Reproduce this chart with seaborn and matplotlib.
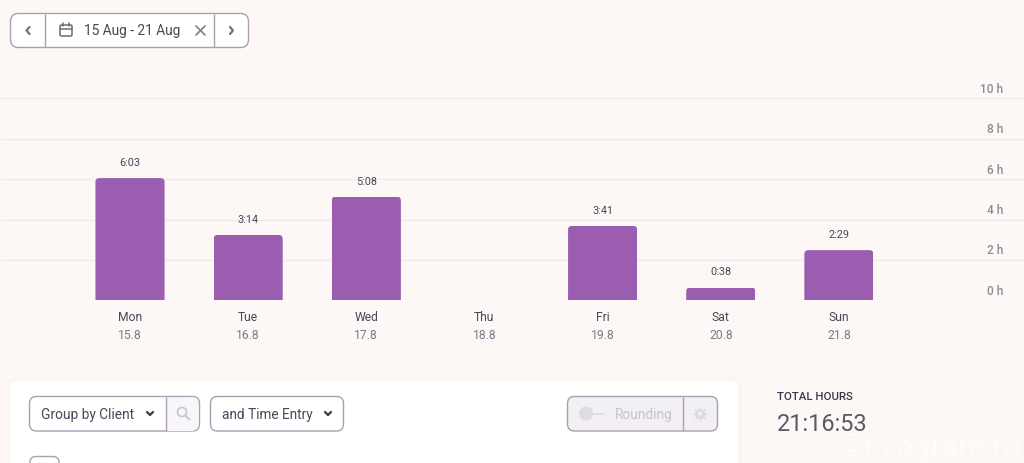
import matplotlib
matplotlib.use("Agg")
import matplotlib.pyplot as plt
import pandas as pd
import seaborn as sns
from matplotlib.patches import Circle, FancyBboxPatch, Rectangle
from matplotlib.transforms import IdentityTransform, ScaledTranslation

days = ["Mon", "Tue", "Wed", "Thu", "Fri", "Sat", "Sun"]
dates = ["15.8", "16.8", "17.8", "18.8", "19.8", "20.8", "21.8"]
hours = [6.05, 3.233, 5.133, 0, 3.683, 0.633, 2.483]
bar_labels = ["6:03", "3:14", "5:08", "", "3:41", "0:38", "2:29"]
y_ticks = [0, 2, 4, 6, 8, 10]
y_labels = ["0 h", "2 h", "4 h", "6 h", "8 h", "10 h"]

BG = "#fdf8f5"
GRID = "#efeaee"
PURPLE = "#9b5daf"
DARK = "#4b4558"
MID = "#7d7888"
BORDER = "#a99fb1"

sns.set_theme(style="white")
plt.rcParams["font.family"] = ["Roboto", "DejaVu Sans"]

df = pd.DataFrame({"day": days, "hours": hours})

fig = plt.figure(figsize=(10.24, 4.64), dpi=100, facecolor=BG)
ax = fig.add_axes([0, (464 - 301.3) / 464, 1, 202 / 464], facecolor=BG)

sns.barplot(data=df, x="day", y="hours", color=PURPLE, saturation=1, width=0.585, ax=ax, zorder=3)
ax.set_xlim(-130 / 118.15, (1024 - 130) / 118.15)
ax.set_ylim(0, 10)
ax.set_xlabel("")
ax.set_ylabel("")
sns.despine(ax=ax, left=True, bottom=True, top=True, right=True)
ax.set_yticks(y_ticks, y_labels)
ax.yaxis.tick_right()
ax.grid(axis="y", color=GRID, lw=1)
ax.set_axisbelow(True)
ax.tick_params(axis="y", length=0, pad=-15, labelsize=8.6, labelcolor="#8f8997")
for lab in ax.get_yticklabels():
    lab.set_ha("right")
    lab.set_fontweight("medium")
    lab.set_transform(lab.get_transform() + ScaledTranslation(0, 11.5 / 100, fig.dpi_scale_trans))
ax.tick_params(axis="x", length=0, pad=7.3, labelsize=8.7, labelcolor=DARK)

# second row of the x axis
for i, d in enumerate(dates):
    ax.annotate(d, (i, 0), xytext=(0, -24.5), textcoords="offset points", ha="center", va="center",
                fontsize=8.7, color=MID, annotation_clip=False)

ax.bar_label(ax.containers[0], labels=bar_labels, padding=8, fontsize=7.8, color=DARK)

# round the top of the bars
fig.canvas.draw()
for bar in ax.patches:
    if bar.get_height() == 0:
        continue
    (x0, y0), (x1, y1) = ax.transData.transform([(bar.get_x(), 0), (bar.get_x() + bar.get_width(), bar.get_height())])
    clip = FancyBboxPatch((x0, y0 - 20), x1 - x0, y1 - y0 + 20, boxstyle="round,pad=0,rounding_size=4",
                          transform=IdentityTransform())
    bar.set_clip_path(clip)
    bar.set_edgecolor("none")

# page controls, drawn in pixel coordinates
ui = fig.add_axes([0, 0, 1, 1], facecolor="none")
ui.set_xlim(0, 1024)
ui.set_ylim(463, -1)
ui.axis("off")


def box(x0, y0, x1, y1, fc="white", ec=BORDER, r=8, lw=1.0, z=2):
    ui.add_patch(FancyBboxPatch((x0, y0), x1 - x0, y1 - y0, boxstyle=f"round,pad=0,rounding_size={r}",
                                fc=fc, ec=ec, lw=lw, zorder=z))


def chevron(xs, ys, color=DARK, lw=1.4):
    ui.plot(xs, ys, color=color, lw=lw, solid_capstyle="round", solid_joinstyle="round", zorder=5)


def down(cx, cy):
    chevron([cx - 3, cx, cx + 3], [cy - 1.5, cy + 1.5, cy - 1.5], color="#3f3a4b", lw=1.6)


# date range picker
box(10.5, 13.5, 248.5, 47.5)
ui.plot([44.5, 44.5], [14, 47], color=BORDER, lw=1, zorder=3, solid_capstyle="butt")
ui.plot([214, 214], [14, 47], color=BORDER, lw=1, zorder=3, solid_capstyle="butt")
chevron([29.5, 26.5, 29.5], [27, 30.5, 34], color="#77727f", lw=1.6)
chevron([230, 233, 230], [27, 30.5, 34], color="#77727f", lw=1.6)
box(60, 25, 72, 36, fc="none", ec="#6d6a70", r=1.5, lw=1.1, z=5)
ui.plot([60, 72], [28.5, 28.5], color="#6d6a70", lw=1.1, zorder=5)
ui.plot([63, 63], [23, 26], color="#6d6a70", lw=1.1, zorder=5)
ui.plot([69, 69], [23, 26], color="#6d6a70", lw=1.1, zorder=5)
ui.text(84, 30.5, "15 Aug - 21 Aug", fontsize=9.95, color=DARK, va="center", zorder=5)
ui.plot([196, 205], [26, 35], color="#8a8592", lw=1.3, zorder=5)
ui.plot([196, 205], [35, 26], color="#8a8592", lw=1.3, zorder=5)

# card with a soft edge
for grow, col in [(4, "#fcf6f3"), (2, "#fbf5f3")]:
    box(10 - grow, 381 - grow, 738 + grow, 500, fc=col, ec="none", r=8 + grow, z=1)
box(10, 381, 738, 500, fc="white", ec="none", r=8, z=1.5)

# grouping controls
box(29.5, 396.5, 199.5, 431, r=7)
ui.add_patch(Rectangle((166, 397.5), 28, 33, fc="#f8f6f9", ec="none", zorder=3))
box(180, 397.5, 198.5, 430, fc="#f8f6f9", ec="none", r=6, z=3)
ui.plot([165.5, 165.5], [397, 430.5], color=BORDER, lw=1, zorder=4, solid_capstyle="butt")
ui.text(41, 414, "Group by Client", fontsize=9.9, color=DARK, va="center", zorder=5)
down(150, 413.5)
ui.add_patch(Circle((182, 412), 4.5, fc="none", ec="#c9c6cd", lw=1.2, zorder=5))
ui.plot([185.5, 189.5], [415.5, 419.5], color="#c9c6cd", lw=1.3, zorder=5)

box(210.5, 396.5, 343.5, 431, r=7)
ui.text(222, 414, "and Time Entry", fontsize=9.8, color=DARK, va="center", zorder=5)
down(328, 413.5)

# rounding toggle, greyed out
box(567.5, 396.5, 717.5, 431, fc="#f3f0f4", r=7)
ui.plot([682.5, 682.5], [397, 430.5], color=BORDER, lw=1, zorder=4, solid_capstyle="butt")
ui.add_patch(Circle((586, 413.5), 7, fc="#dedbe0", ec="none", zorder=5))
ui.plot([590, 604], [413.5, 413.5], color="#dedbe0", lw=1.2, zorder=4)
ui.text(614.5, 414, "Rounding", fontsize=9.9, color="#c8c4cb", va="center", zorder=5)
ui.plot([700], [413.5], marker=(8, 1, 0), ms=12, color="#dedbe0", mec="none", zorder=5)
ui.add_patch(Circle((700, 413.5), 4.6, fc="#dedbe0", ec="none", zorder=5))
ui.add_patch(Circle((700, 413.5), 2, fc="#f3f0f4", ec="none", zorder=6))

# stump of the next row
box(30, 456.5, 59, 480, r=6)

# totals
ui.text(777, 396, "TOTAL HOURS", fontsize=8.2, color="#3d3450", fontweight="medium", va="center")
ui.text(777, 424, "21:16:53", fontsize=16.9, color="#5c5668", va="center")

# watermark
ui.text(840, 447, "\u00a9fixogram.ru", fontsize=22, color="white", alpha=0.55, va="center", clip_on=True)

fig.savefig("out.png", dpi=100, facecolor=BG)
